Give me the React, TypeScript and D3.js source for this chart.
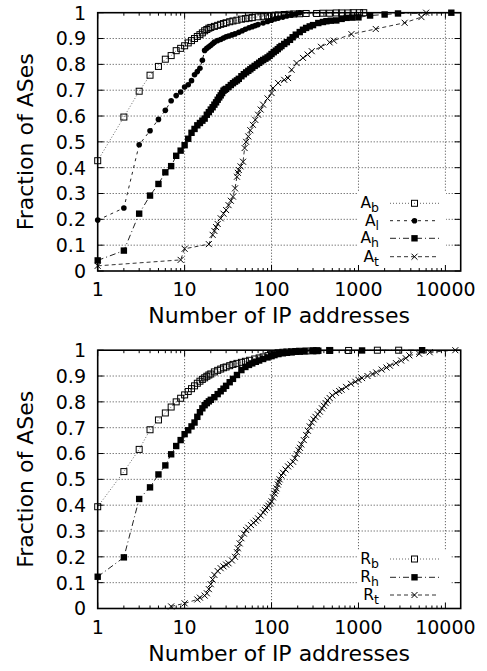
import React from "react";
import * as d3 from "d3";

// ---------- Top panel data (A series) ----------
const AB_X = [1,2,3,4,5,6,7,8,9,10,11,12,13,14,15,16,17,18,19,20,22,24,26,28,30,33,36,40,45,50,55,60,70,80,90,100,110,120,140,160,180,210,250,330,390,466,556,640,760,870,1030,1150];
const AB_Y = [.427,.596,.696,.758,.792,.82,.834,.853,.862,.872,.883,.892,.9,.908,.915,.922,.93,.935,.94,.943,.947,.951,.955,.958,.961,.965,.968,.971,.975,.977,.979,.981,.984,.986,.988,.989,.99,.991,.993,.994,.995,.996,.997,.997,.998,.998,.999,.999,.999,1,1,1];

const AL_X = [1,2,3,4,5,6,7,8,9,10,11,12,13,14,15,16,17,18,19,20,21,22,24,26,28,30,32,35,38,42,46,50,55,60,65,70,80,90,100,110,120,135,150,170,190,211];
const AL_Y = [.197,.244,.489,.543,.587,.622,.659,.679,.693,.712,.721,.737,.76,.772,.785,.816,.854,.862,.868,.874,.88,.886,.892,.896,.902,.907,.91,.914,.918,.924,.93,.936,.942,.946,.95,.954,.96,.966,.971,.976,.979,.983,.987,.991,.995,1.0];

const AH_X = [1,2,3,4,5,6,7,8,9,10,11,12,13,14,15,16,17,18,19,20,21,22,23,24,25,26,27,28,29,30,32,34,36,38,40,42,45,48,51,54,57,60,64,68,72,76,80,85,90,95,100,106,112,118,124,130,140,150,163,175,190,211,230,250,275,300,345,390,428,480,556,640,730,850,1000,1360,2000,2850,11700];
const AH_Y = [.041,.079,.222,.292,.337,.382,.406,.446,.466,.487,.512,.535,.55,.564,.573,.582,.59,.605,.615,.625,.634,.644,.653,.663,.672,.68,.689,.698,.702,.705,.712,.72,.727,.733,.738,.744,.754,.762,.769,.775,.781,.787,.794,.8,.806,.812,.817,.822,.827,.833,.84,.847,.853,.859,.866,.871,.879,.886,.895,.905,.915,.925,.934,.941,.947,.952,.96,.964,.967,.969,.97,.976,.98,.981,.982,.989,.993,.997,1.0];

const AT_X = [1,9,10,19,21,22,23,24,26,28,30,32,34,36,38,40,41,42,44,47,49,51,54,57,61,65,70,75,80,90,100,104,119,140,155,170,194,230,260,290,370,466,520,830,1580,3400,5300,6000];
const AT_Y = [.02,.043,.086,.104,.14,.155,.17,.182,.204,.222,.236,.255,.272,.288,.32,.365,.38,.391,.405,.423,.476,.5,.521,.545,.566,.585,.605,.625,.644,.668,.689,.708,.728,.74,.747,.779,.805,.825,.838,.851,.868,.885,.892,.917,.937,.961,.983,1.0];

// ---------- Bottom panel data (R series) ----------
const RB_X = [1,2,3,4,5,6,7,8,9,10,11,12,13,14,15,16,17,18,19,20,22,24,26,28,30,33,36,40,45,50,56,64,72,80,91,100,110,119,135,150,170,190,210,250,300,330,466,770,1650,2900];
const RB_Y = [.394,.53,.616,.692,.73,.757,.78,.8,.814,.827,.84,.851,.862,.872,.88,.887,.893,.899,.904,.908,.916,.922,.927,.932,.935,.94,.945,.949,.953,.957,.961,.966,.97,.974,.979,.983,.987,.99,.992,.993,.994,.995,.996,.997,.998,.998,.999,.999,1,1];

const RH_X = [1,2,3,4,5,6,7,8,9,10,11,12,13,14,15,16,17,18,19,20,22,24,26,28,30,33,36,40,45,50,55,60,66,72,80,90,100,108,120,135,150,170,190,210,240,300,345,470,1100,5400];
const RH_Y = [.123,.198,.424,.469,.519,.554,.597,.629,.652,.675,.69,.705,.72,.742,.76,.775,.787,.795,.802,.808,.818,.83,.841,.851,.862,.876,.889,.904,.923,.935,.943,.949,.955,.96,.966,.972,.977,.981,.985,.988,.99,.992,.994,.995,.996,.997,.998,.999,.999,1.0];

const RT_X = [7,10,14,15,17,18,19,20,21,22,24,26,28,30,32,35,38,40,41,43,45,48,51,54,58,62,66,70,75,80,84,88,92,96,100,104,108,111,114,118,121,124,130,136,145,155,165,177,185,195,205,212,220,235,250,262,275,290,305,320,340,360,380,400,420,440,466,500,550,600,640,720,820,920,1000,1100,1270,1450,1600,1850,2100,2300,2700,3100,3500,3850,5000,6600,13000];
const RT_Y = [.008,.02,.035,.042,.05,.059,.075,.094,.112,.13,.145,.156,.163,.17,.175,.186,.2,.218,.233,.252,.272,.29,.304,.313,.323,.332,.34,.349,.36,.372,.381,.39,.398,.406,.415,.43,.445,.455,.465,.48,.49,.5,.515,.525,.538,.55,.558,.568,.582,.598,.612,.622,.635,.652,.672,.688,.705,.72,.732,.742,.752,.762,.775,.785,.795,.805,.815,.825,.835,.842,.847,.858,.87,.878,.885,.892,.9,.908,.914,.925,.933,.94,.95,.96,.969,.98,.986,.992,1.0];

const X_TICKS = [1, 10, 100, 1000, 10000];
const Y_TICKS = [0, 0.1, 0.2, 0.3, 0.4, 0.5, 0.6, 0.7, 0.8, 0.9, 1];

type Kind = "osq" | "circ" | "fsq" | "x";
interface Series { xs: number[]; ys: number[]; label: string; sub: string; kind: Kind; dash: string; color: string; }

const FONT = "'DejaVu Sans', sans-serif";
const LEFT = 97.7, RIGHT = 460.7;

function Marker({ kind, cx, cy }: { kind: Kind; cx: number; cy: number }) {
  if (kind === "osq") return <rect x={cx - 3} y={cy - 3} width={6} height={6} fill="none" stroke="#000" strokeWidth={1} />;
  if (kind === "fsq") return <rect x={cx - 3.2} y={cy - 3.2} width={6.4} height={6.4} fill="#000" />;
  if (kind === "circ") return <circle cx={cx} cy={cy} r={2.8} fill="#000" />;
  return (
    <path d={`M${cx - 3},${cy - 3}L${cx + 3},${cy + 3}M${cx - 3},${cy + 3}L${cx + 3},${cy - 3}`} stroke="#000" strokeWidth={1} />
  );
}

function Panel({ top, bottom, series, legend }: { top: number; bottom: number; series: Series[]; legend: { x0: number; x1: number; y0: number; ys: number[] } }) {
  const x = d3.scaleLog().domain([1, 15000]).range([LEFT, RIGHT]);
  const y = d3.scaleLinear().domain([0, 1]).range([bottom, top]);
  const minor: number[] = [];
  for (let d = 1; d <= 10000; d *= 10) for (let k = 2; k <= 9; k++) if (d * k < 15000) minor.push(d * k);
  return (
    <g>
      {X_TICKS.slice(1).map((t) => (
        <line key={"gx" + t} x1={x(t)} x2={x(t)} y1={top} y2={bottom} stroke="#444" strokeWidth={1} strokeDasharray="1,2" />
      ))}
      {Y_TICKS.slice(1, -1).map((t) => (
        <line key={"gy" + t} x1={LEFT} x2={RIGHT} y1={y(t)} y2={y(t)} stroke="#444" strokeWidth={1} strokeDasharray="1,2" />
      ))}
      <rect x={legend.x0} y={legend.y0} width={legend.x1 - legend.x0} height={bottom - legend.y0} fill="#fff" />
      {X_TICKS.map((t) => (
        <g key={"xt" + t}>
          <line x1={x(t)} x2={x(t)} y1={bottom} y2={bottom - 6} stroke="#000" />
          <line x1={x(t)} x2={x(t)} y1={top} y2={top + 6} stroke="#000" />
          <text x={x(t)} y={bottom + 25} fontSize={19} textAnchor="middle" fontFamily={FONT}>{t}</text>
        </g>
      ))}
      {minor.map((t) => (
        <g key={"mt" + t}>
          <line x1={x(t)} x2={x(t)} y1={bottom} y2={bottom - 3} stroke="#000" />
          <line x1={x(t)} x2={x(t)} y1={top} y2={top + 3} stroke="#000" />
        </g>
      ))}
      {Y_TICKS.map((t) => (
        <g key={"yt" + t}>
          <line x1={LEFT} x2={LEFT + 6} y1={y(t)} y2={y(t)} stroke="#000" />
          <line x1={RIGHT} x2={RIGHT - 6} y1={y(t)} y2={y(t)} stroke="#000" />
          <text x={86} y={y(t)} dy="0.36em" fontSize={19} textAnchor="end" fontFamily={FONT}>{String(t)}</text>
        </g>
      ))}
      {series.map((s, i) => {
        const pts = s.xs.map((v, j) => [x(v), y(s.ys[j])] as [number, number]);
        return (
          <g key={"s" + i}>
            <path d={d3.line()(pts) || ""} fill="none" stroke={s.color} strokeWidth={1} strokeDasharray={s.dash} />
            {pts.map((p, j) => <Marker key={j} kind={s.kind} cx={p[0]} cy={p[1]} />)}
          </g>
        );
      })}
      {series.map((s, i) => {
        const ly = legend.ys[i];
        return (
          <g key={"lg" + i}>
            <text x={379} y={ly + 5} fontSize={15.5} textAnchor="end" fontFamily={FONT}>
              {s.label}
              <tspan dy={4} fontSize={12.5}>{s.sub}</tspan>
            </text>
            <line x1={390} x2={439} y1={ly} y2={ly} stroke={s.color} strokeWidth={1} strokeDasharray={s.dash} />
            <Marker kind={s.kind} cx={414.5} cy={ly} />
          </g>
        );
      })}
      <rect x={LEFT} y={top} width={RIGHT - LEFT} height={bottom - top} fill="none" stroke="#000" strokeWidth={1.6} />
      <text x={(LEFT + RIGHT) / 2} y={bottom + 52} fontSize={22} textAnchor="middle" fontFamily={FONT}>Number of IP addresses</text>
      <text transform={`translate(33,${(top + bottom) / 2}) rotate(-90)`} fontSize={22} textAnchor="middle" fontFamily={FONT}>Fraction of ASes</text>
    </g>
  );
}

export default function App() {
  const topSeries: Series[] = [
    { xs: AB_X, ys: AB_Y, label: "A", sub: "b", kind: "osq", dash: "1,2", color: "#666" },
    { xs: AL_X, ys: AL_Y, label: "A", sub: "l", kind: "circ", dash: "3,4", color: "#222" },
    { xs: AH_X, ys: AH_Y, label: "A", sub: "h", kind: "fsq", dash: "6,3,1,3", color: "#222" },
    { xs: AT_X, ys: AT_Y, label: "A", sub: "t", kind: "x", dash: "4,3", color: "#333" },
  ];
  const botSeries: Series[] = [
    { xs: RB_X, ys: RB_Y, label: "R", sub: "b", kind: "osq", dash: "1,2", color: "#666" },
    { xs: RH_X, ys: RH_Y, label: "R", sub: "h", kind: "fsq", dash: "6,3,1,3", color: "#222" },
    { xs: RT_X, ys: RT_Y, label: "R", sub: "t", kind: "x", dash: "4,3", color: "#333" },
  ];
  return (
    <svg width={487} height={671} style={{ position: "absolute", left: 0, top: 0, background: "#fff" }}>
      <rect width={487} height={671} fill="#fff" />
      <Panel top={12.7} bottom={271} series={topSeries} legend={{ x0: 357, x1: 446, y0: 192, ys: [203.3, 220.7, 238.3, 256.7] }} />
      <Panel top={350.2} bottom={608.5} series={botSeries} legend={{ x0: 357, x1: 450, y0: 550, ys: [559, 577.3, 595] }} />
    </svg>
  );
}
